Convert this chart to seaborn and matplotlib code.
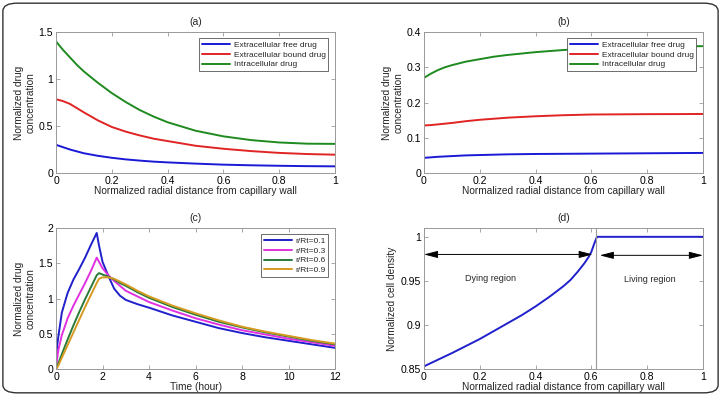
import numpy as np
import pandas as pd
import matplotlib
matplotlib.use("Agg")
import matplotlib.pyplot as plt
from matplotlib.patches import FancyBboxPatch
from matplotlib.ticker import FuncFormatter
import seaborn as sns

# (a) and (b): concentration along the radial distance
r_ab = [0, 0.025, 0.05, 0.075, 0.1, 0.15, 0.2, 0.25, 0.3, 0.35, 0.4, 0.5, 0.6, 0.7, 0.8, 0.9, 1.0]
a_free = [0.30, 0.275, 0.25, 0.23, 0.21, 0.183, 0.162, 0.145, 0.132, 0.121, 0.113, 0.10,
          0.089, 0.082, 0.077, 0.073, 0.071]
a_bound = [0.785, 0.765, 0.735, 0.69, 0.645, 0.56, 0.49, 0.44, 0.40, 0.365, 0.34, 0.29,
           0.258, 0.233, 0.214, 0.202, 0.195]
a_intra = [1.40, 1.31, 1.23, 1.15, 1.08, 0.96, 0.85, 0.755, 0.67, 0.60, 0.54, 0.45,
           0.39, 0.35, 0.325, 0.312, 0.31]
b_free = [0.043, 0.0445, 0.046, 0.047, 0.048, 0.050, 0.051, 0.052, 0.053, 0.0535, 0.054,
          0.0545, 0.055, 0.0555, 0.056, 0.0565, 0.057]
b_bound = [0.135, 0.136, 0.138, 0.140, 0.142, 0.147, 0.151, 0.154, 0.157, 0.159, 0.161,
           0.164, 0.166, 0.1665, 0.167, 0.1672, 0.1675]
b_intra = [0.27, 0.282, 0.292, 0.300, 0.306, 0.316, 0.323, 0.330, 0.335, 0.339, 0.343,
           0.349, 0.353, 0.356, 0.358, 0.359, 0.36]
drug_names = ["Extracellular free drug", "Extracellular bound drug", "Intracellular drug"]

# (c): concentration over time at four radial positions
t_c = [0, 0.02, 0.05, 0.1, 0.25, 0.5, 0.75, 1.0, 1.25, 1.5, 1.75, 1.85, 2.0, 2.25, 2.5, 2.75,
       3.0, 3.5, 4, 5, 6, 7, 8, 9, 10, 11, 12]
c_r01 = [0, 0.20, 0.33, 0.46, 0.80, 1.08, 1.27, 1.42, 1.58, 1.76, 1.93, 1.75, 1.52, 1.32, 1.14,
         1.04, 0.98, 0.92, 0.87, 0.76, 0.67, 0.58, 0.51, 0.45, 0.40, 0.35, 0.30]
c_r03 = [0, 0.07, 0.15, 0.27, 0.48, 0.72, 0.90, 1.06, 1.22, 1.39, 1.58, 1.52, 1.43, 1.33, 1.25,
         1.18, 1.11, 1.03, 0.95, 0.83, 0.72, 0.63, 0.55, 0.49, 0.43, 0.38, 0.33]
c_r06 = [0, 0.02, 0.04, 0.08, 0.21, 0.42, 0.62, 0.81, 0.99, 1.16, 1.33, 1.36, 1.34, 1.31, 1.27,
         1.22, 1.18, 1.09, 1.01, 0.88, 0.77, 0.67, 0.59, 0.52, 0.46, 0.40, 0.35]
c_r09 = [0, 0.0, 0.02, 0.05, 0.16, 0.34, 0.52, 0.70, 0.88, 1.05, 1.22, 1.28, 1.30, 1.30, 1.28,
         1.24, 1.20, 1.11, 1.03, 0.90, 0.79, 0.69, 0.60, 0.53, 0.47, 0.41, 0.36]
c_labels = ["r/Rt=0.1", "r/Rt=0.3", "r/Rt=0.6", "r/Rt=0.9"]

# (d): cell density
r_d = [0, 0.1, 0.2, 0.3, 0.35, 0.4, 0.45, 0.5, 0.525, 0.55, 0.575, 0.59, 0.6, 0.61, 0.62, 1.0]
density = [0.853, 0.868, 0.884, 0.902, 0.911, 0.921, 0.932, 0.944, 0.951, 0.960, 0.970,
           0.977, 0.983, 0.992, 1.0, 1.0]
boundary = 0.616

sns.set_theme(style="ticks")
plt.rcParams["font.family"] = ["Liberation Sans", "DejaVu Sans"]
plt.rcParams.update({
    "xtick.direction": "in", "ytick.direction": "in",
    "xtick.top": True, "ytick.right": True,
    "xtick.major.size": 3, "ytick.major.size": 3,
    "xtick.major.width": 0.6, "ytick.major.width": 0.6,
    "xtick.color": "#999999", "ytick.color": "#999999",
    "xtick.labelcolor": "black", "ytick.labelcolor": "black",
    "xtick.labelsize": 7.6, "ytick.labelsize": 7.6,
    "xtick.major.pad": 2, "ytick.major.pad": 2,
    "axes.edgecolor": "#999999", "axes.linewidth": 0.7,
    "axes.labelsize": 7.3, "axes.titlesize": 7.5,
})

fig = plt.figure(figsize=(7.21, 3.96), dpi=100)
w, h = 0.387, 0.356
ax_a = fig.add_axes([0.0777, 0.5631, w, h])
ax_b = fig.add_axes([0.588, 0.5631, w, h])
ax_c = fig.add_axes([0.0777, 0.0682, w, h])
ax_d = fig.add_axes([0.588, 0.0682, w, h])

drug_colors = ["#1a1ad6", "#e02424", "#1f8a1f"]
fmt = FuncFormatter(lambda v, p: f"{v:g}")
leg_kw = dict(title=None, loc="upper right", fontsize=6.0, frameon=True, fancybox=False,
              edgecolor="#555555", framealpha=1, borderpad=0.3, labelspacing=0.25,
              handlelength=3.4, handletextpad=0.4)

for ax, vals, title, ymax, yt in [
    (ax_a, [a_free, a_bound, a_intra], "(a)", 1.5, [0, 0.5, 1, 1.5]),
    (ax_b, [b_free, b_bound, b_intra], "(b)", 0.4, [0, 0.1, 0.2, 0.3, 0.4]),
]:
    df = pd.DataFrame({"r": r_ab * 3,
                       "conc": vals[0] + vals[1] + vals[2],
                       "species": sum([[n] * len(r_ab) for n in drug_names], [])})
    sns.lineplot(data=df, x="r", y="conc", hue="species", palette=drug_colors,
                 linewidth=1.4, ax=ax)
    ax.set_xlim(0, 1)
    ax.set_ylim(0, ymax)
    ax.set_xticks([0, 0.2, 0.4, 0.6, 0.8, 1])
    ax.set_yticks(yt)
    ax.xaxis.set_major_formatter(fmt)
    ax.yaxis.set_major_formatter(fmt)
    ax.set_xlabel("Normalized radial distance from capillary wall", labelpad=0)
    ax.set_ylabel("Normalized drug\nconcentration", labelpad=2)
    ax.set_title(title, pad=5)
    leg = ax.legend(bbox_to_anchor=(0.99, 0.985), **leg_kw)
    leg.get_frame().set_linewidth(0.6)

# (c)
c_colors = ["#2020cc", "#e030e0", "#2a7a3a", "#d69a20"]
df_c = pd.DataFrame({"t": t_c * 4,
                     "conc": c_r01 + c_r03 + c_r06 + c_r09,
                     "pos": sum([[n] * len(t_c) for n in c_labels], [])})
sns.lineplot(data=df_c, x="t", y="conc", hue="pos", palette=c_colors, linewidth=1.4, ax=ax_c)
ax_c.set_xlim(0, 12)
ax_c.set_ylim(0, 2)
ax_c.set_xticks(range(0, 13, 2))
ax_c.set_yticks([0, 0.5, 1, 1.5, 2])
ax_c.yaxis.set_major_formatter(fmt)
ax_c.set_xlabel("Time (hour)", labelpad=0)
ax_c.set_ylabel("Normalized drug\nconcentration", labelpad=2)
ax_c.set_title("(c)", pad=5)
leg = ax_c.legend(bbox_to_anchor=(0.99, 0.985), **leg_kw)
leg.get_frame().set_linewidth(0.6)

# (d)
sns.lineplot(x=r_d, y=density, color="#2020cc", linewidth=1.4, ax=ax_d)
ax_d.axvline(boundary, color="#9a9a9a", linewidth=0.8)
ax_d.set_xlim(0, 1)
ax_d.set_ylim(0.85, 1.01)
ax_d.set_xticks([0, 0.2, 0.4, 0.6, 0.8, 1])
ax_d.set_yticks([0.85, 0.9, 0.95, 1])
ax_d.xaxis.set_major_formatter(fmt)
ax_d.yaxis.set_major_formatter(fmt)
ax_d.set_xlabel("Normalized radial distance from capillary wall", labelpad=0)
ax_d.set_ylabel("Normalized cell density", labelpad=3)
ax_d.set_title("(d)", pad=5)
arrow = dict(arrowstyle="<|-|>,head_width=0.18,head_length=0.7", color="black", lw=0.7,
             shrinkA=0, shrinkB=0)
ax_d.annotate("", xy=(0.0, 0.98), xytext=(0.605, 0.98), arrowprops=arrow)
ax_d.annotate("", xy=(0.630, 0.979), xytext=(1.0, 0.979), arrowprops=arrow)
ax_d.text(0.24, 0.953, "Dying region", fontsize=6.5, ha="center", va="center")
ax_d.text(0.81, 0.952, "Living region", fontsize=6.5, ha="center", va="center")

# rounded frame around the whole figure
frame = FancyBboxPatch((0.004, 0.008), 0.992, 0.984, boxstyle="round,pad=0,rounding_size=0.02",
                       transform=fig.transFigure, fill=False, edgecolor="#333333", linewidth=1.0)
fig.patches.append(frame)

fig.savefig("out.png", dpi=100)
